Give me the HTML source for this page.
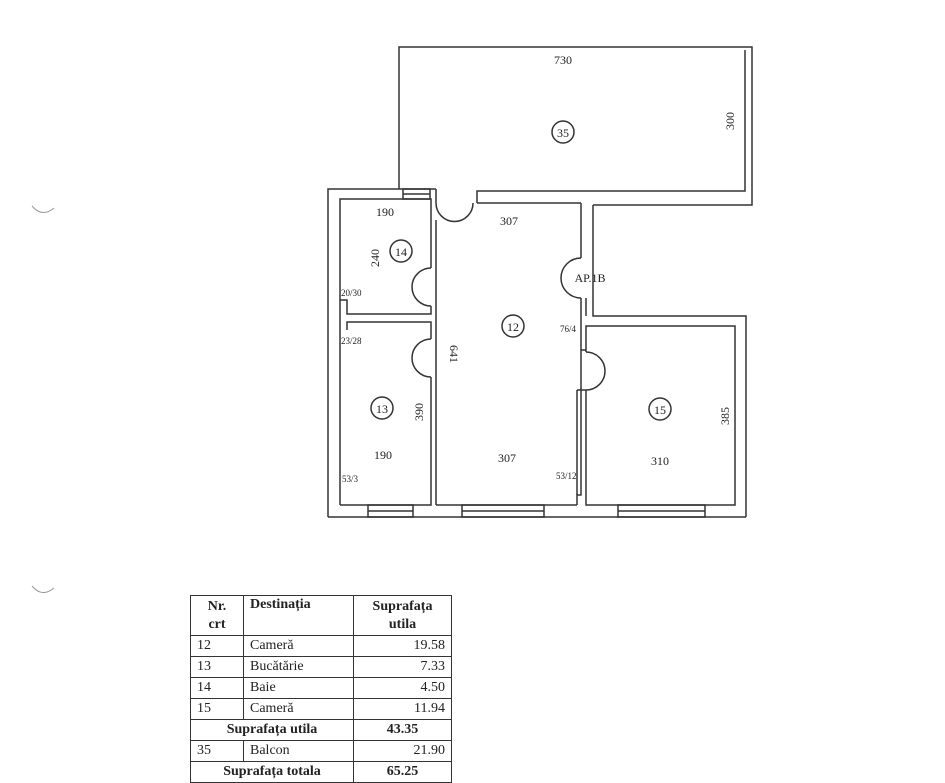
<!DOCTYPE html>
<html><head><style>
body{margin:0;background:#fff;}
svg text{font-family:"Liberation Serif",serif;fill:#222;}
td{border:1px solid #333;padding:0 6px;font-family:"Liberation Serif",serif;font-size:14px;color:#222;height:20px;line-height:18px;}
</style></head><body>
<svg width="945" height="782" style="position:absolute;left:0;top:0" xmlns="http://www.w3.org/2000/svg">
<g fill="none" stroke="#333" stroke-width="1.5">
<polyline points="399,189 399,47 752,47 752,205 593,205"/>
<polyline points="477,203 477,191 745,191 745,50"/>
<polyline points="328,517 328,189 436,189"/>
<line x1="328" y1="517" x2="746" y2="517"/>
<polyline points="746,517 746,316 593,316 593,205"/>
<polyline points="581,203 477,203"/>
<line x1="581" y1="203" x2="581" y2="258"/>
<line x1="581" y1="298" x2="581" y2="350"/>
<line x1="586" y1="298" x2="586" y2="316"/>
<polyline points="340,505 340,199 431,199 431,268"/>
<polyline points="431,306 431,314 347,314 347,300 340,300"/>
<polyline points="347,330 347,322 431,322 431,339"/>
<polyline points="431,377 431,505 340,505"/>
<line x1="436" y1="189" x2="436" y2="203"/>
<line x1="436" y1="220" x2="436" y2="505"/>
<line x1="436" y1="505" x2="577" y2="505"/>
<polyline points="577,505 577,495 581,495 581,350 586,350"/>
<line x1="586" y1="390" x2="577" y2="390"/>
<line x1="577" y1="390" x2="577" y2="495"/>
<polyline points="586,352 586,326 735,326 735,505 586,505 586,390"/>
<path d="M436,203 A18,18 0 0 0 473,203"/>
<path d="M431,268 A19,19 0 0 0 431,306"/>
<path d="M431,339 A19,19 0 0 0 431,377"/>
<path d="M581,258 A20,20 0 0 0 581,298"/>
<path d="M586,352 A19,19 0 0 1 586,390"/>
<rect x="368" y="505" width="45" height="12"/><line x1="368" y1="511" x2="413" y2="511"/>
<rect x="462" y="505" width="82" height="12"/><line x1="462" y1="511" x2="544" y2="511"/>
<rect x="618" y="505" width="87" height="12"/><line x1="618" y1="511" x2="705" y2="511"/>
<rect x="403" y="189" width="27" height="10"/><line x1="403" y1="194" x2="430" y2="194"/>
<circle cx="563" cy="132" r="11"/>
<circle cx="401" cy="251" r="11"/>
<circle cx="513" cy="326" r="11"/>
<circle cx="382" cy="408" r="11"/>
<circle cx="660" cy="409" r="11"/>
<path d="M32,206 Q42,218 54,208" stroke="#999" stroke-width="1"/>
<path d="M32,586 Q42,598 54,588" stroke="#999" stroke-width="1"/>
</g>
<g font-size="12" text-anchor="middle">
<text x="563" y="64">730</text>
<text x="563" y="137">35</text>
<text x="401" y="256">14</text>
<text x="513" y="331">12</text>
<text x="382" y="413">13</text>
<text x="660" y="414">15</text>
<text x="385" y="216">190</text>
<text x="509" y="225">307</text>
<text x="590" y="282">AP.1B</text>
<text x="383" y="459">190</text>
<text x="507" y="462">307</text>
<text x="660" y="465">310</text>
<text transform="translate(734,121) rotate(-90)">300</text>
<text transform="translate(379,258) rotate(-90)">240</text>
<text transform="translate(450,354) rotate(90)">641</text>
<text transform="translate(423,412) rotate(-90)">390</text>
<text transform="translate(729,416) rotate(-90)">385</text>
</g>
<g font-size="9">
<text x="341" y="296">20/30</text>
<text x="341" y="344">23/28</text>
<text x="560" y="332">76/4</text>
<text x="342" y="482">53/3</text>
<text x="556" y="479">53/12</text>
</g>
</svg>
<table style="position:absolute;left:190px;top:595px;border-collapse:collapse;width:262px">
<tr style="height:40px"><td style="width:40px;font-weight:bold;text-align:center;line-height:18px">Nr.<br>crt</td><td style="width:97px;font-weight:bold;vertical-align:top">Destinația</td><td style="font-weight:bold;text-align:center">Suprafața<br>utila</td></tr>
<tr><td>12</td><td>Cameră</td><td style="text-align:right">19.58</td></tr>
<tr><td>13</td><td>Bucătărie</td><td style="text-align:right">7.33</td></tr>
<tr><td>14</td><td>Baie</td><td style="text-align:right">4.50</td></tr>
<tr><td>15</td><td>Cameră</td><td style="text-align:right">11.94</td></tr>
<tr><td colspan="2" style="font-weight:bold;text-align:center">Suprafața utila</td><td style="font-weight:bold;text-align:center">43.35</td></tr>
<tr><td>35</td><td>Balcon</td><td style="text-align:right">21.90</td></tr>
<tr><td colspan="2" style="font-weight:bold;text-align:center">Suprafața totala</td><td style="font-weight:bold;text-align:center">65.25</td></tr>
</table>
</body></html>
